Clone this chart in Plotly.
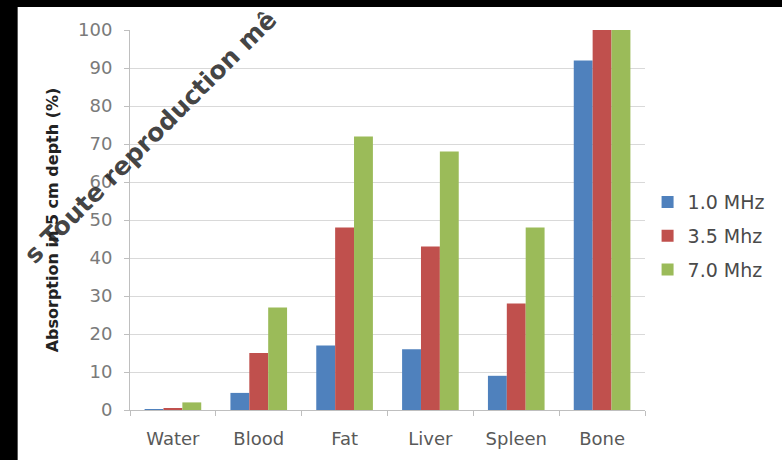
import plotly.graph_objects as go

# Tissue categories and absorption (%) at 5 cm depth per frequency
tissues = ["Water", "Blood", "Fat", "Liver", "Spleen", "Bone"]
mhz_1_0 = [0.2, 4.5, 17, 16, 9, 92]
mhz_3_5 = [0.4, 15, 48, 43, 28, 100]
mhz_7_0 = [2, 27, 72, 68, 48, 100]

series_names = ["1.0 MHz", "3.5 Mhz", "7.0 Mhz"]
series_colors = ["#4f81bd", "#c0504d", "#9bbb59"]
y_ticks = list(range(0, 101, 10))

FONT = "DejaVu Sans"

fig = go.Figure()
for name, vals, color in zip(series_names, [mhz_1_0, mhz_3_5, mhz_7_0], series_colors):
    fig.add_trace(go.Bar(
        x=tissues, y=vals, name=name, legendgroup=name,
        marker=dict(color=color, line=dict(width=0)),
    ))

fig.update_layout(
    width=782, height=460,
    margin=dict(l=130, r=134, t=30, b=50),
    paper_bgcolor="white", plot_bgcolor="white",
    barmode="group", bargap=0.34, bargroupgap=0,
    font=dict(family=FONT, size=18, color="#595959"),
    showlegend=True,
    legend=dict(
        x=1.005, y=0.597, xanchor="left", yanchor="top",
        font=dict(family=FONT, size=19, color="#4a4a4a"),
        tracegroupgap=6, bgcolor="rgba(0,0,0,0)",
    ),
    xaxis=dict(
        showline=True, linecolor="#bfbfbf", linewidth=1,
        ticks="outside", tickson="boundaries", ticklen=5, tickcolor="#bfbfbf",
        tickfont=dict(family=FONT, size=18, color="#595959"),
        ticklabelstandoff=12,
        showgrid=False, automargin=False,
    ),
    yaxis=dict(
        range=[0, 100], tickvals=y_ticks,
        showline=True, linecolor="#bfbfbf", linewidth=1,
        ticks="outside", ticklen=5, tickcolor="#bfbfbf",
        tickfont=dict(family=FONT, size=18, color="#7a7a7a"),
        ticklabelstandoff=8,
        showgrid=True, gridcolor="#d9d9d9", gridwidth=1,
        zeroline=False, automargin=False,
        title=dict(text="<b>Absorption in 5 cm depth (%)</b>",
                   font=dict(family=FONT, size=16, color="#222222"),
                   standoff=15),
    ),
)

# dark frame strips along the left and top edges
fig.add_shape(type="rect", xref="paper", yref="paper",
              x0=-0.26, x1=(17 - 130) / 518, y0=-0.2, y1=1.1,
              fillcolor="black", line=dict(width=0), layer="above")
fig.add_shape(type="rect", xref="paper", yref="paper",
              x0=-0.26, x1=1.27, y0=1 + (30 - 7) / 380, y1=1.1,
              fillcolor="black", line=dict(width=0), layer="above")

# diagonal watermark text
fig.add_annotation(
    text="<b>s Toute reproduction mê</b>", xref="paper", yref="paper",
    x=(150 - 130) / 518, y=1 - (137 - 30) / 380,
    xanchor="center", yanchor="middle", textangle=-45, showarrow=False,
    font=dict(family=FONT, size=25, color="rgba(35,35,35,0.85)"),
)

fig.write_html("out.html")
